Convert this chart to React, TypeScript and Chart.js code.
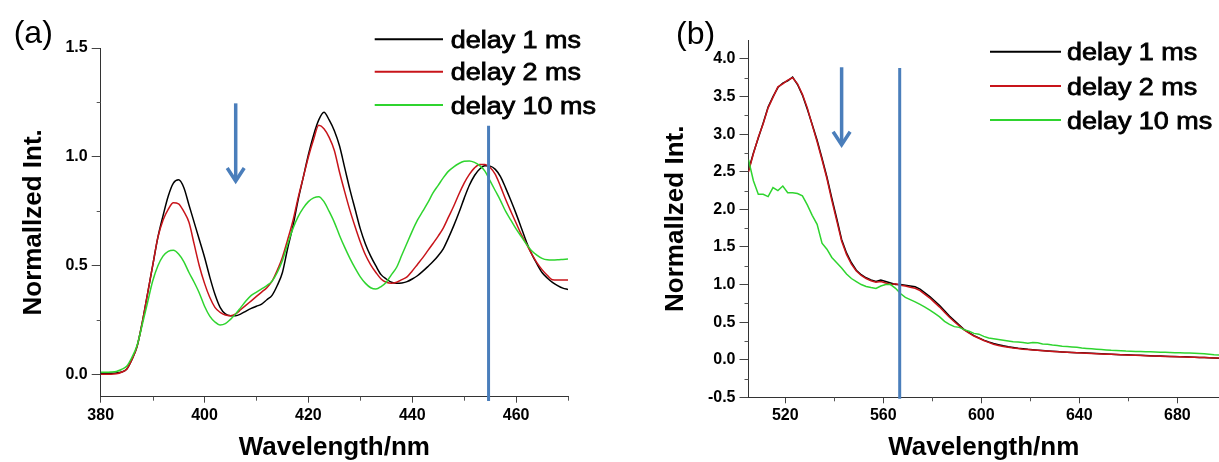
import React, { useEffect, useRef } from 'react';
import { Chart, registerables } from 'chart.js';

Chart.register(...registerables);

const FONT = "'Liberation Sans', Arial, Helvetica, sans-serif";
const SERIES_LABELS = ['delay 1 ms', 'delay 2 ms', 'delay 10 ms'];
const SERIES_COLORS = ['#000000', '#c8141a', '#2fd42f'];
const MARK_BLUE = '#4a7ebb';
const Y_TITLE = 'Normallzed Int.';
const X_TITLE = 'Wavelength/nm';

// ---------- panel (a) ----------
const WL_A = Array.from({ length: 91 }, (_, i) => 380 + i);
const A_DELAY_1 = [
  0.008, 0.008, 0.008, 0.009, 0.013, 0.026, 0.07, 0.13, 0.24, 0.37,
  0.50, 0.63, 0.73, 0.82, 0.88, 0.895, 0.86, 0.78, 0.70, 0.62,
  0.54, 0.45, 0.37, 0.31, 0.28, 0.272, 0.272, 0.28, 0.293, 0.305,
  0.315, 0.325, 0.345, 0.365, 0.41, 0.47, 0.58, 0.68, 0.80, 0.905,
  1.01, 1.10, 1.17, 1.205, 1.17, 1.12, 1.05, 0.95, 0.85, 0.76,
  0.67, 0.60, 0.545, 0.50, 0.46, 0.44, 0.425, 0.42, 0.422, 0.428,
  0.44, 0.455, 0.475, 0.497, 0.52, 0.547, 0.58, 0.63, 0.685, 0.745,
  0.81, 0.87, 0.915, 0.945, 0.96, 0.958, 0.943, 0.91, 0.857, 0.80,
  0.74, 0.675, 0.61, 0.555, 0.51, 0.47, 0.445, 0.425, 0.41, 0.398,
  0.392,
];
const A_DELAY_2 = [
  0.003, 0.003, 0.003, 0.005, 0.012, 0.026, 0.07, 0.13, 0.24, 0.37,
  0.50, 0.63, 0.71, 0.76, 0.79, 0.785, 0.75, 0.70, 0.60, 0.50,
  0.42, 0.356, 0.31, 0.287, 0.275, 0.272, 0.28, 0.30, 0.32, 0.34,
  0.36, 0.38, 0.40, 0.43, 0.48, 0.54, 0.62, 0.705, 0.81, 0.905,
  1.00, 1.08, 1.145, 1.13, 1.09, 1.03, 0.93, 0.84, 0.755, 0.68,
  0.61, 0.55, 0.505, 0.47, 0.44, 0.425, 0.42, 0.425, 0.437, 0.45,
  0.477, 0.507, 0.537, 0.57, 0.603, 0.637, 0.675, 0.725, 0.775, 0.83,
  0.88, 0.92, 0.95, 0.966, 0.965, 0.952, 0.92, 0.865, 0.805, 0.75,
  0.697, 0.645, 0.60, 0.555, 0.515, 0.483, 0.457, 0.437, 0.436, 0.436,
  0.436,
];
const A_DELAY_10 = [
  0.012, 0.012, 0.013, 0.016, 0.025, 0.04, 0.08, 0.135, 0.23, 0.33,
  0.43, 0.50, 0.545, 0.567, 0.572, 0.555, 0.52, 0.47, 0.425, 0.375,
  0.315, 0.27, 0.243, 0.229, 0.235, 0.255, 0.28, 0.31, 0.34, 0.365,
  0.38, 0.395, 0.41, 0.43, 0.47, 0.525, 0.60, 0.67, 0.725, 0.765,
  0.795, 0.812, 0.818, 0.795, 0.75, 0.70, 0.64, 0.585, 0.535, 0.49,
  0.45, 0.42, 0.40, 0.394, 0.405, 0.425, 0.46, 0.494, 0.55, 0.605,
  0.66, 0.71, 0.75, 0.79, 0.835, 0.87, 0.905, 0.935, 0.955, 0.97,
  0.98, 0.982, 0.975, 0.96, 0.935, 0.89, 0.845, 0.80, 0.75, 0.71,
  0.67, 0.635, 0.60, 0.57, 0.55, 0.535, 0.528, 0.527, 0.528, 0.53,
  0.532,
];
const A_X_RANGE = [380, 470];
const A_X_STEP = 20;
const A_X_MINOR = [390, 410, 430, 450, 470];
const A_Y_RANGE = [-0.1, 1.5];
const A_Y_STEP = 0.5;
const A_Y_MINOR = [0.25, 0.75, 1.25];
const A_MARK_LINE = [454.7, 1.143, -0.12]; // wavelength, top value, bottom value
const A_ARROW = [406, 1.246, 0.885]; // wavelength, tail value, tip value

// ---------- panel (b) ----------
const WL_B = Array.from({ length: 97 }, (_, i) => 505 + 2 * i);
const B_DELAY_1 = [
  2.52, 2.75, 2.95, 3.15, 3.36, 3.50, 3.62, 3.68, 3.71, 3.76,
  3.66, 3.52, 3.33, 3.13, 2.92, 2.68, 2.43, 2.15, 1.88, 1.60,
  1.42, 1.29, 1.19, 1.13, 1.09, 1.06, 1.04, 1.06, 1.04, 1.02,
  1.00, 1.00, 0.99, 0.98, 0.97, 0.94, 0.89, 0.84, 0.78, 0.72,
  0.65, 0.58, 0.52, 0.46, 0.40, 0.36, 0.32, 0.29, 0.26, 0.235,
  0.215, 0.20, 0.185, 0.172, 0.163, 0.153, 0.145, 0.138, 0.133, 0.127,
  0.122, 0.117, 0.112, 0.108, 0.104, 0.10, 0.097, 0.094, 0.091, 0.088,
  0.085, 0.082, 0.079, 0.076, 0.073, 0.07, 0.067, 0.065, 0.062, 0.06,
  0.058, 0.055, 0.053, 0.05, 0.048, 0.046, 0.044, 0.042, 0.04, 0.038,
  0.036, 0.034, 0.031, 0.028, 0.026, 0.023, 0.02,
];
const B_DELAY_2 = [
  2.50, 2.74, 2.96, 3.14, 3.35, 3.49, 3.63, 3.67, 3.72, 3.75,
  3.67, 3.53, 3.35, 3.12, 2.90, 2.66, 2.41, 2.12, 1.85, 1.58,
  1.40, 1.27, 1.18, 1.12, 1.08, 1.05, 1.03, 1.04, 1.02, 1.00,
  1.01, 0.99, 0.98, 0.965, 0.95, 0.92, 0.87, 0.82, 0.76, 0.70,
  0.63, 0.565, 0.505, 0.45, 0.395, 0.355, 0.315, 0.285, 0.255, 0.23,
  0.205, 0.19, 0.175, 0.165, 0.155, 0.148, 0.14, 0.135, 0.13, 0.125,
  0.12, 0.115, 0.11, 0.106, 0.102, 0.098, 0.095, 0.092, 0.089, 0.086,
  0.083, 0.08, 0.077, 0.074, 0.071, 0.068, 0.065, 0.063, 0.06, 0.058,
  0.056, 0.053, 0.051, 0.048, 0.046, 0.044, 0.042, 0.04, 0.038, 0.036,
  0.034, 0.032, 0.03, 0.028, 0.026, 0.024, 0.022,
];
const B_DELAY_10 = [
  2.66, 2.38, 2.20, 2.20, 2.17, 2.29, 2.25, 2.31, 2.22, 2.22,
  2.21, 2.18, 2.06, 1.92, 1.80, 1.55, 1.47, 1.36, 1.29, 1.22,
  1.14, 1.08, 1.04, 1.00, 0.975, 0.96, 0.948, 0.98, 1.00, 1.00,
  0.95, 0.88, 0.83, 0.80, 0.77, 0.735, 0.70, 0.66, 0.615, 0.57,
  0.51, 0.47, 0.44, 0.43, 0.40, 0.38, 0.35, 0.34, 0.31, 0.29,
  0.28, 0.27, 0.26, 0.25, 0.24, 0.235, 0.23, 0.22, 0.23, 0.225,
  0.21, 0.205, 0.195, 0.19, 0.18, 0.175, 0.17, 0.165, 0.155, 0.15,
  0.145, 0.14, 0.135, 0.13, 0.125, 0.122, 0.12, 0.115, 0.112, 0.11,
  0.108, 0.106, 0.105, 0.103, 0.10, 0.098, 0.096, 0.094, 0.092, 0.09,
  0.088, 0.086, 0.082, 0.078, 0.072, 0.066, 0.062,
];
const B_X_RANGE = [505, 697];
const B_X_STEP = 40;
const B_X_MINOR = [540, 580, 620, 660];
const B_Y_RANGE = [-0.5, 4.25];
const B_Y_STEP = 0.5;
const B_Y_MINOR = [-0.25, 0.25, 0.75, 1.25, 1.75, 2.25, 2.75, 3.25, 3.75];
const B_MARK_LINE = [566.7, 3.88, -0.52];
const B_ARROW = [543.0, 3.89, 2.846];

type PanelCfg = {
  tag: string;
  wl: number[];
  series: number[][];
  xRange: number[];
  xStep: number;
  xMinor: number[];
  yRange: number[];
  yStep: number;
  yMinor: number[];
  markLine: number[];
  arrow: number[];
  smooth: boolean;
  left: number;
  width: number;
  padTop: number;
  padRight: number;
  yAxisWidth: number;
  xAxisHeight: number;
  yTitlePad: number;
  tagPos: number[];
  legendRows: number[];
  legendX: number[];
};

const PANEL_A: PanelCfg = {
  tag: '(a)',
  wl: WL_A,
  series: [A_DELAY_1, A_DELAY_2, A_DELAY_10],
  xRange: A_X_RANGE, xStep: A_X_STEP, xMinor: A_X_MINOR,
  yRange: A_Y_RANGE, yStep: A_Y_STEP, yMinor: A_Y_MINOR,
  markLine: A_MARK_LINE, arrow: A_ARROW, smooth: true,
  left: 0, width: 610, padTop: 48, padRight: 42,
  yAxisWidth: 100.7, xAxisHeight: 65.3, yTitlePad: 21.3,
  tagPos: [13.7, 34],
  legendRows: [39.3, 71.7, 105],
  legendX: [374.7, 443, 450.8],
};

const PANEL_B: PanelCfg = {
  tag: '(b)',
  wl: WL_B,
  series: [B_DELAY_1, B_DELAY_2, B_DELAY_10],
  xRange: B_X_RANGE, xStep: B_X_STEP, xMinor: B_X_MINOR,
  yRange: B_Y_RANGE, yStep: B_Y_STEP, yMinor: B_Y_MINOR,
  markLine: B_MARK_LINE, arrow: B_ARROW, smooth: false,
  left: 610, width: 609, padTop: 40.2, padRight: 0,
  yAxisWidth: 138.5, xAxisHeight: 64.7, yTitlePad: 53.3,
  tagPos: [66, 35],
  legendRows: [51.7, 86, 120],
  legendX: [380, 451, 457],
};

function makePlugins(p: PanelCfg) {
  const minorTicks = {
    id: 'minorTicks',
    afterDraw(chart: any) {
      const { ctx, chartArea, scales } = chart;
      const x = scales.x;
      const y = scales.y;
      ctx.save();
      ctx.strokeStyle = '#555';
      ctx.lineWidth = 1;
      ctx.beginPath();
      p.xMinor.forEach((v) => {
        const px = Math.round(x.getPixelForValue(v)) + 0.5;
        ctx.moveTo(px, chartArea.bottom);
        ctx.lineTo(px, chartArea.bottom + 4);
      });
      p.yMinor.forEach((v) => {
        const py = Math.round(y.getPixelForValue(v)) + 0.5;
        ctx.moveTo(chartArea.left, py);
        ctx.lineTo(chartArea.left - 4, py);
      });
      ctx.stroke();
      ctx.restore();
    },
  };

  const marks = {
    id: 'marks',
    afterDatasetsDraw(chart: any) {
      const { ctx, scales } = chart;
      const x = scales.x;
      const y = scales.y;
      ctx.save();
      ctx.strokeStyle = MARK_BLUE;
      const lx = x.getPixelForValue(p.markLine[0]);
      ctx.lineWidth = 3;
      ctx.beginPath();
      ctx.moveTo(lx, y.getPixelForValue(p.markLine[1]));
      ctx.lineTo(lx, y.getPixelForValue(p.markLine[2]));
      ctx.stroke();
      const ax = x.getPixelForValue(p.arrow[0]);
      const aTop = y.getPixelForValue(p.arrow[1]);
      const aTip = y.getPixelForValue(p.arrow[2]);
      ctx.lineWidth = 3.5;
      ctx.beginPath();
      ctx.moveTo(ax, aTop);
      ctx.lineTo(ax, aTip - 2);
      ctx.stroke();
      ctx.lineJoin = 'miter';
      ctx.beginPath();
      ctx.moveTo(ax - 8.5, aTip - 14);
      ctx.lineTo(ax, aTip - 1);
      ctx.lineTo(ax + 8.5, aTip - 14);
      ctx.stroke();
      ctx.restore();
    },
  };

  const legendAndTag = {
    id: 'legendAndTag',
    afterDraw(chart: any) {
      const { ctx } = chart;
      ctx.save();
      ctx.fillStyle = '#000';
      ctx.font = `32px ${FONT}`;
      ctx.textAlign = 'left';
      ctx.textBaseline = 'middle';
      ctx.fillText(p.tag, p.tagPos[0], p.tagPos[1]);
      const [x1, x2, tx] = p.legendX;
      SERIES_LABELS.forEach((label, i) => {
        const ry = p.legendRows[i];
        ctx.strokeStyle = SERIES_COLORS[i];
        ctx.lineWidth = 2;
        ctx.beginPath();
        ctx.moveTo(x1, ry);
        ctx.lineTo(x2, ry);
        ctx.stroke();
        ctx.save();
        ctx.translate(tx, ry + 8.5);
        ctx.scale(1.17, 1);
        ctx.fillStyle = '#000';
        ctx.strokeStyle = '#000';
        ctx.lineWidth = 0.8;
        ctx.font = `23px ${FONT}`;
        ctx.textBaseline = 'alphabetic';
        ctx.fillText(label, 0, 0);
        ctx.strokeText(label, 0, 0);
        ctx.restore();
      });
      ctx.restore();
    },
  };
  return [minorTicks, marks, legendAndTag];
}

function buildConfig(p: PanelCfg): any {
  const tickFont = { family: FONT, size: 16, weight: 'bold' as const };
  const titleFont = { family: FONT, size: 26, weight: 'bold' as const, lineHeight: 1 };
  return {
    type: 'line',
    data: {
      datasets: p.series.map((s, i) => ({
        label: SERIES_LABELS[i],
        data: p.wl.map((w, k) => ({ x: w, y: s[k] })),
        borderColor: SERIES_COLORS[i],
        borderWidth: 1.5,
        pointRadius: 0,
        fill: false,
        cubicInterpolationMode: p.smooth ? 'monotone' : 'default',
        tension: 0,
        order: 2 - i,
      })),
    },
    options: {
      animation: false,
      responsive: false,
      events: [],
      layout: { padding: { top: p.padTop, right: p.padRight, bottom: 0, left: 0 } },
      plugins: { legend: { display: false }, tooltip: { enabled: false } },
      scales: {
        x: {
          type: 'linear',
          min: p.xRange[0],
          max: p.xRange[1],
          afterFit: (s: any) => { s.height = p.xAxisHeight; },
          ticks: {
            stepSize: p.xStep,
            includeBounds: false,
            autoSkip: false,
            maxRotation: 0,
            font: tickFont,
            color: '#000',
            padding: 3,
            callback: (v: any) => String(v),
          },
          grid: { display: true, drawOnChartArea: false, drawTicks: true, tickLength: 6, tickColor: '#444' },
          border: { display: true, color: '#333', width: 1 },
          title: { display: true, text: X_TITLE, font: titleFont, color: '#000', padding: { top: 0, bottom: 1 } },
        },
        y: {
          type: 'linear',
          min: p.yRange[0],
          max: p.yRange[1],
          afterFit: (s: any) => { s.width = p.yAxisWidth; },
          ticks: {
            stepSize: p.yStep,
            includeBounds: false,
            autoSkip: false,
            font: tickFont,
            color: '#000',
            padding: 4,
            callback: (v: any) => Number(v).toFixed(1),
          },
          grid: { display: true, drawOnChartArea: false, drawTicks: true, tickLength: 9, tickColor: '#444' },
          border: { display: true, color: '#333', width: 1 },
          title: { display: true, text: Y_TITLE, font: titleFont, color: '#000', padding: { top: p.yTitlePad, bottom: 0 } },
        },
      },
    },
    plugins: makePlugins(p),
  };
}

function Panel({ cfg }: { cfg: PanelCfg }) {
  const ref = useRef<HTMLCanvasElement>(null);
  useEffect(() => {
    const chart = new Chart(ref.current as HTMLCanvasElement, buildConfig(cfg));
    return () => chart.destroy();
  }, [cfg]);
  return (
    <canvas
      ref={ref}
      width={cfg.width}
      height={462}
      style={{ position: 'absolute', left: cfg.left, top: 0, width: cfg.width, height: 462 }}
    />
  );
}

export default function App() {
  return (
    <div style={{ position: 'fixed', left: 0, top: 0, width: 1219, height: 462, background: '#ffffff', overflow: 'hidden' }}>
      <Panel cfg={PANEL_A} />
      <Panel cfg={PANEL_B} />
    </div>
  );
}
